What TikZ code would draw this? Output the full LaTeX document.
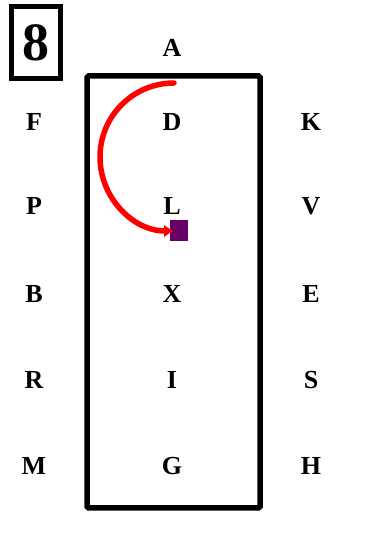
\documentclass[tikz,border=0pt]{standalone}
\usepackage{fontspec}
\setmainfont{Liberation Serif}
\usetikzlibrary{arrows.meta,positioning}
\definecolor{arenared}{HTML}{FF0000}
\definecolor{markerpurple}{HTML}{660066}
\tikzset{arena/.style={line width=5.5pt, rounded corners=1.5pt}, letter/.style={font=\bfseries\fontsize{26}{26}\selectfont, inner sep=0pt}, move/.style={-{Latex[length=10pt,width=13pt]}, line width=5.5pt, line cap=round, color=arenared}, marker/.style={fill=markerpurple, minimum width=18pt, minimum height=21pt, inner sep=0pt}}
\begin{document}
\begin{tikzpicture}[x=1pt,y=1pt]
\useasboundingbox (0,0) rectangle (378,545);
\draw[arena] (87,37) rectangle (260,469);
\node[draw, line width=5pt, minimum width=49pt, minimum height=72pt, inner sep=0pt, font=\bfseries\fontsize{54}{54}\selectfont] (num) at (35.5,502) {8};
% centre line
\node[letter] (A) at (172,497) {A}; \node[letter] (D) at (172,423) {D}; \node[letter] (L) at (172,339) {L};
\node[letter] (X) at (172,251) {X}; \node[letter] (I) at (172,165) {I}; \node[letter] (G) at (172,79) {G};
% left side
\node[letter] (F) at (34,423) {F}; \node[letter] (P) at (34,339) {P}; \node[letter] (B) at (34,251) {B};
\node[letter] (R) at (34,165) {R}; \node[letter] (M) at (34,79) {M};
% right side
\node[letter] (K) at (311,423) {K}; \node[letter] (V) at (311,339) {V}; \node[letter] (E) at (311,251) {E};
\node[letter] (S) at (311,165) {S}; \node[letter] (H) at (311,79) {H};
\node[marker] (sq) at (179,314.5) {};
\coordinate (start) at (174,462);
\draw[move] (start) arc[start angle=90, end angle=270, radius=74];
\end{tikzpicture}
\end{document}
